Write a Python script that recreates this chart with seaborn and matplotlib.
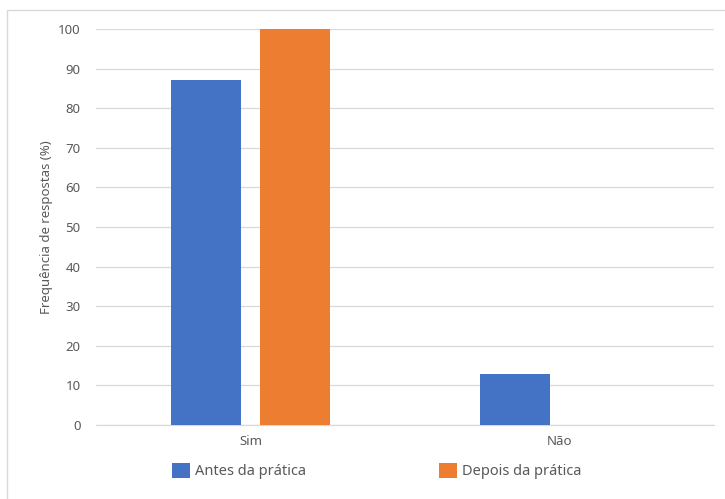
import matplotlib
matplotlib.use("Agg")
import matplotlib.pyplot as plt
import seaborn as sns
import pandas as pd
from matplotlib.patches import Rectangle

categories = ["Sim", "Não"]
series = ["Antes da prática", "Depois da prática"]
antes = [87, 13]
depois = [100, 0]
yticks = [0, 10, 20, 30, 40, 50, 60, 70, 80, 90, 100]

df = pd.DataFrame({
    "cat": categories * 2,
    "serie": [series[0]] * 2 + [series[1]] * 2,
    "val": antes + depois,
})

sns.set_theme(style="white")
plt.rcParams["font.family"] = ["Noto Sans", "DejaVu Sans"]

fig = plt.figure(figsize=(7.25, 4.99), dpi=100)
ax = fig.add_axes([96 / 725, 74 / 499, 618 / 725, 396 / 499])

palette = {series[0]: "#4472C4", series[1]: "#ED7D31"}
sns.barplot(data=df, x="cat", y="val", hue="serie", order=categories,
            hue_order=series, palette=palette, width=0.574, gap=0.213,
            saturation=1, ax=ax, legend=True, zorder=3, linewidth=0)

ax.set_ylim(0, 100)
ax.set_xlim(-0.5, 1.5)
ax.set_yticks(yticks)
ax.yaxis.grid(True, color="#D9D9D9", linewidth=0.9, zorder=0)
ax.set_axisbelow(True)
for s in ["top", "right", "left"]:
    ax.spines[s].set_visible(False)
ax.spines["bottom"].set_color("#D9D9D9")
ax.spines["bottom"].set_linewidth(0.9)
ax.tick_params(axis="both", length=0, labelsize=9.5, labelcolor="#595959")
ax.tick_params(axis="y", pad=11)
ax.tick_params(axis="x", pad=7)
ax.set_xlabel("")
ax.set_ylabel("Frequência de respostas (%)", fontsize=9.5, color="#595959", labelpad=4)

handles, labels = ax.get_legend_handles_labels()
ax.legend_.remove()
fig.legend(handles, labels, loc="center", bbox_to_anchor=(377 / 725, 1 - 471 / 499),
           ncol=2, frameon=False, fontsize=10.5, labelcolor="#595959",
           handlelength=1.2, handleheight=1.2, handletextpad=0.4,
           columnspacing=9.1)

fig.patches.append(Rectangle((7 / 725, -0.05), 1.1, 1 - 10 / 499 + 0.05,
                             transform=fig.transFigure, fill=False,
                             edgecolor="#D9D9D9", linewidth=1))

fig.savefig("out.png", dpi=100)
